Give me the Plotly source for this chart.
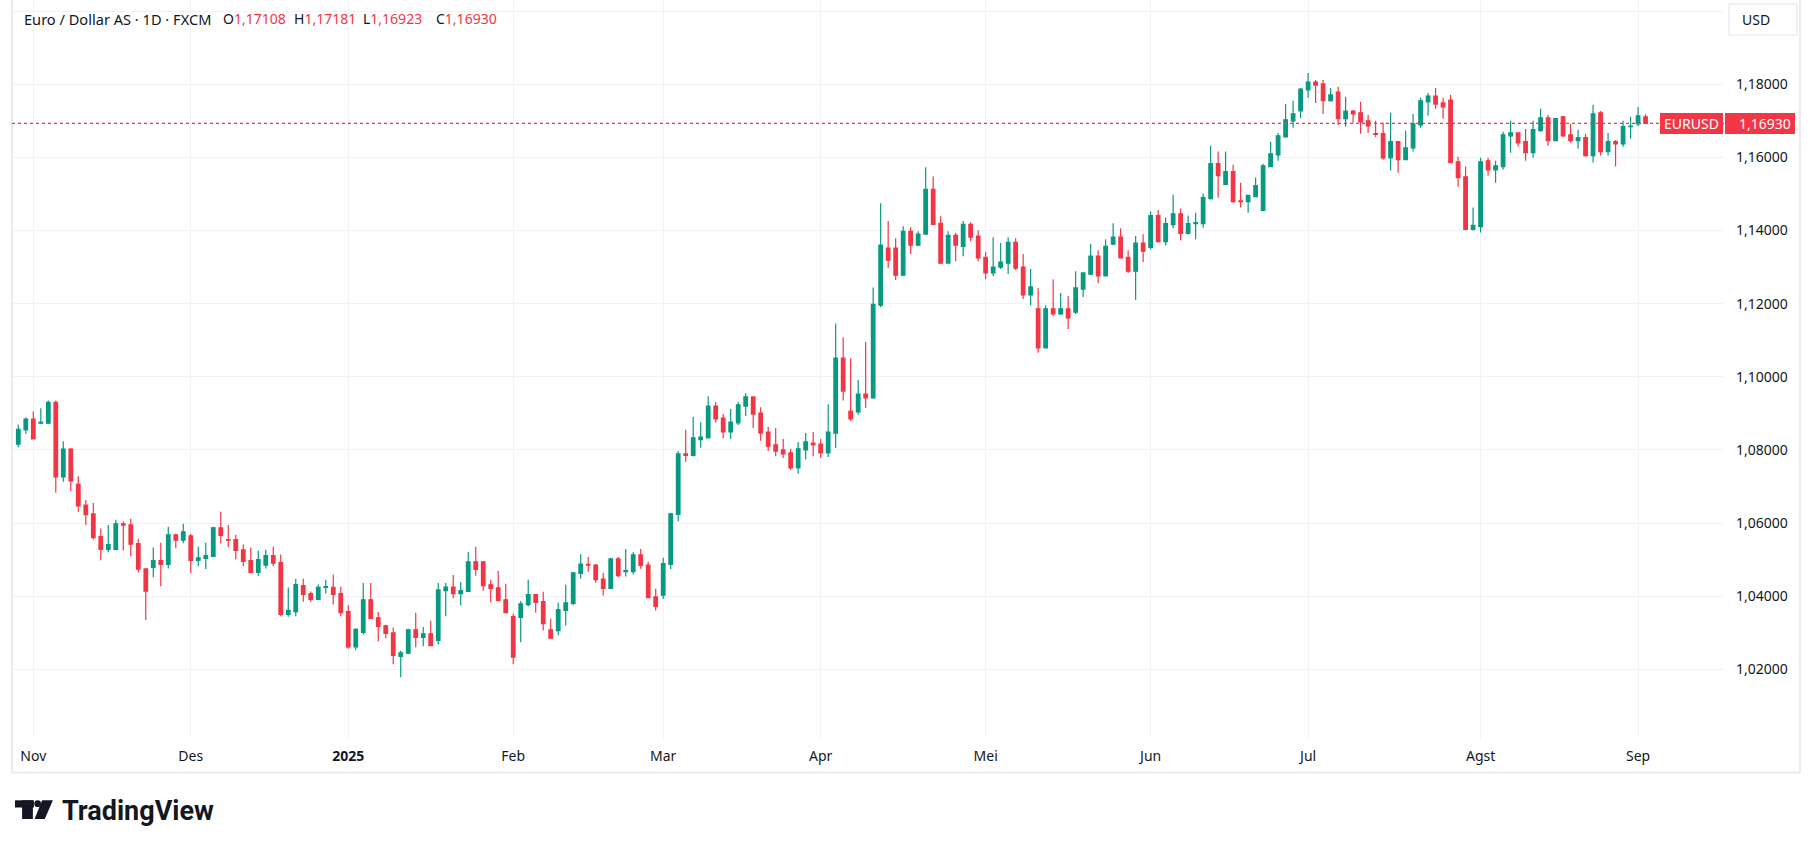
import plotly.graph_objects as go
import pandas as pd

# EUR/USD daily, FXCM (30 Okt 2024 - 2 Sep 2025)
dates = pd.bdate_range("2024-10-30", "2025-09-02")
dates = dates.drop(pd.to_datetime(["2024-12-25", "2025-01-01"]))
days = dates.strftime("%Y-%m-%d").tolist()

opens = [
    1.0816, 1.0855, 1.0884, 1.0873, 1.0873, 1.0930, 1.0726, 1.0802, 1.0706, 1.0649,
    1.0625, 1.0563, 1.0528, 1.0528, 1.0598, 1.0595, 1.0544, 1.0475, 1.0479, 1.0497,
    1.0487, 1.0568, 1.0553, 1.0565, 1.0498, 1.0503, 1.0509, 1.0587, 1.0555, 1.0555,
    1.0527, 1.0497, 1.0465, 1.0485, 1.0511, 1.0492, 1.0350, 1.0358, 1.0429, 1.0407,
    1.0391, 1.0424, 1.0424, 1.0407, 1.0358, 1.0261, 1.0301, 1.0390, 1.0341, 1.0319,
    1.0300, 1.0235, 1.0244, 1.0308, 1.0287, 1.0297, 1.0279, 1.0415, 1.0425, 1.0407,
    1.0413, 1.0494, 1.0494, 1.0431, 1.0423, 1.0390, 1.0344, 1.0342, 1.0377, 1.0404,
    1.0385, 1.0308, 1.0306, 1.0361, 1.0380, 1.0462, 1.0487, 1.0485, 1.0447, 1.0421,
    1.0502, 1.0467, 1.0467, 1.0513, 1.0485, 1.0398, 1.0403, 1.0487, 1.0624, 1.0789,
    1.0785, 1.0828, 1.0833, 1.0920, 1.0887, 1.0849, 1.0874, 1.0920, 1.0945, 1.0901,
    1.0849, 1.0814, 1.0800, 1.0792, 1.0751, 1.0800, 1.0819, 1.0816, 1.0792, 1.0846,
    1.1051, 1.0906, 1.0904, 1.0953, 1.0942, 1.1196, 1.1352, 1.1352, 1.1278, 1.1398,
    1.1360, 1.1390, 1.1513, 1.1420, 1.1311, 1.1387, 1.1357, 1.1417, 1.1385, 1.1327,
    1.1284, 1.1300, 1.1311, 1.1368, 1.1300, 1.1224, 1.1186, 1.1079, 1.1186, 1.1172,
    1.1186, 1.1177, 1.1240, 1.1281, 1.1330, 1.1276, 1.1363, 1.1382, 1.1327, 1.1289,
    1.1366, 1.1354, 1.1441, 1.1370, 1.1416, 1.1446, 1.1392, 1.1419, 1.1419, 1.1487,
    1.1583, 1.1526, 1.1561, 1.1481, 1.1479, 1.1493, 1.1455, 1.1575, 1.1607, 1.1656,
    1.1700, 1.1727, 1.1785, 1.1806, 1.1801, 1.1755, 1.1779, 1.1706, 1.1727, 1.1722,
    1.1700, 1.1665, 1.1665, 1.1599, 1.1643, 1.1594, 1.1626, 1.1689, 1.1752, 1.1768,
    1.1749, 1.1757, 1.1588, 1.1547, 1.1403, 1.1411, 1.1591, 1.1566, 1.1575, 1.1659,
    1.1667, 1.1643, 1.1613, 1.1673, 1.1708, 1.1646, 1.1711, 1.1662, 1.1646, 1.1654,
    1.1605, 1.1722, 1.1616, 1.1643, 1.1637, 1.1684, 1.1692, 1.17108,
]
highs = [
    1.0869, 1.0889, 1.0905, 1.0914, 1.0935, 1.0935, 1.0824, 1.0805, 1.0728, 1.0663,
    1.0655, 1.0585, 1.0595, 1.0609, 1.0604, 1.0612, 1.0557, 1.0476, 1.0533, 1.0546,
    1.0590, 1.0571, 1.0598, 1.0571, 1.0535, 1.0546, 1.0590, 1.0631, 1.0595, 1.0568,
    1.0541, 1.0533, 1.0525, 1.0527, 1.0535, 1.0514, 1.0424, 1.0448, 1.0448, 1.0413,
    1.0432, 1.0445, 1.0459, 1.0426, 1.0375, 1.0312, 1.0436, 1.0436, 1.0357, 1.0322,
    1.0314, 1.0251, 1.0311, 1.0355, 1.0316, 1.0333, 1.0436, 1.0436, 1.0458, 1.0439,
    1.0521, 1.0535, 1.0495, 1.0445, 1.0469, 1.0434, 1.0352, 1.0387, 1.0445, 1.0406,
    1.0412, 1.0338, 1.0382, 1.0431, 1.0466, 1.0515, 1.0507, 1.0488, 1.0464, 1.0505,
    1.0507, 1.0529, 1.0521, 1.0529, 1.0494, 1.0420, 1.0505, 1.0628, 1.0797, 1.0855,
    1.0890, 1.0876, 1.0947, 1.0931, 1.0898, 1.0912, 1.0931, 1.0955, 1.0947, 1.0917,
    1.0863, 1.0860, 1.0830, 1.0803, 1.0822, 1.0846, 1.0849, 1.0830, 1.0925, 1.1146,
    1.1108, 1.1051, 1.0991, 1.1095, 1.1244, 1.1475, 1.1426, 1.1379, 1.1412, 1.1409,
    1.1398, 1.1573, 1.1548, 1.1439, 1.1398, 1.1393, 1.1426, 1.1423, 1.1401, 1.1341,
    1.1382, 1.1366, 1.1382, 1.1379, 1.1336, 1.1295, 1.1243, 1.1196, 1.1267, 1.1229,
    1.1221, 1.1289, 1.1286, 1.1363, 1.1346, 1.1376, 1.1420, 1.1406, 1.1346, 1.1385,
    1.1390, 1.1452, 1.1456, 1.1436, 1.1498, 1.1460, 1.1441, 1.1449, 1.1501, 1.1632,
    1.1616, 1.1616, 1.1580, 1.1531, 1.1498, 1.1545, 1.1583, 1.1643, 1.1667, 1.1746,
    1.1755, 1.1790, 1.1831, 1.1812, 1.1812, 1.1790, 1.1793, 1.1766, 1.1730, 1.1752,
    1.1716, 1.1700, 1.1695, 1.1722, 1.1644, 1.1673, 1.1719, 1.1763, 1.1776, 1.1790,
    1.1763, 1.1771, 1.1602, 1.1575, 1.1463, 1.1599, 1.1599, 1.1591, 1.1670, 1.1700,
    1.1668, 1.1678, 1.1700, 1.1733, 1.1716, 1.1708, 1.1714, 1.1692, 1.1676, 1.1665,
    1.1744, 1.1727, 1.1667, 1.1648, 1.1700, 1.1711, 1.1738, 1.17181,
]
lows = [
    1.0807, 1.0844, 1.0829, 1.0871, 1.0870, 1.0683, 1.0713, 1.0688, 1.0631, 1.0595,
    1.0555, 1.0498, 1.0520, 1.0527, 1.0525, 1.0509, 1.0465, 1.0335, 1.0452, 1.0427,
    1.0476, 1.0531, 1.0545, 1.0463, 1.0482, 1.0474, 1.0507, 1.0545, 1.0534, 1.0501,
    1.0482, 1.0463, 1.0455, 1.0476, 1.0482, 1.0345, 1.0344, 1.0345, 1.0385, 1.0385,
    1.0390, 1.0407, 1.0377, 1.0345, 1.0256, 1.0253, 1.0295, 1.0338, 1.0276, 1.0285,
    1.0214, 1.0178, 1.0241, 1.0260, 1.0263, 1.0264, 1.0268, 1.0345, 1.0394, 1.0375,
    1.0412, 1.0456, 1.0415, 1.0383, 1.0387, 1.0353, 1.0214, 1.0274, 1.0372, 1.0355,
    1.0306, 1.0284, 1.0293, 1.0320, 1.0375, 1.0448, 1.0467, 1.0437, 1.0402, 1.0420,
    1.0451, 1.0454, 1.0459, 1.0475, 1.0395, 1.0361, 1.0392, 1.0474, 1.0605, 1.0768,
    1.0782, 1.0806, 1.0831, 1.0876, 1.0831, 1.0830, 1.0868, 1.0893, 1.0860, 1.0825,
    1.0797, 1.0783, 1.0778, 1.0745, 1.0735, 1.0774, 1.0783, 1.0778, 1.0781, 1.0805,
    1.0935, 1.0879, 1.0896, 1.0915, 1.0940, 1.1190, 1.1297, 1.1265, 1.1277, 1.1336,
    1.1357, 1.1389, 1.1416, 1.1308, 1.1310, 1.1316, 1.1330, 1.1371, 1.1316, 1.1267,
    1.1276, 1.1295, 1.1281, 1.1292, 1.1213, 1.1196, 1.1066, 1.1078, 1.1166, 1.1169,
    1.1131, 1.1172, 1.1218, 1.1278, 1.1256, 1.1275, 1.1360, 1.1324, 1.1284, 1.1210,
    1.1314, 1.1348, 1.1367, 1.1359, 1.1406, 1.1373, 1.1389, 1.1376, 1.1408, 1.1485,
    1.1490, 1.1525, 1.1476, 1.1463, 1.1449, 1.1492, 1.1454, 1.1574, 1.1591, 1.1654,
    1.1681, 1.1708, 1.1763, 1.1749, 1.1719, 1.1752, 1.1689, 1.1684, 1.1695, 1.1665,
    1.1667, 1.1656, 1.1594, 1.1564, 1.1558, 1.1593, 1.1616, 1.1681, 1.1714, 1.1733,
    1.1706, 1.1585, 1.1520, 1.1402, 1.1400, 1.1395, 1.1550, 1.1531, 1.1566, 1.1613,
    1.1629, 1.1591, 1.1599, 1.1670, 1.1632, 1.1645, 1.1656, 1.1640, 1.1624, 1.1602,
    1.1586, 1.1605, 1.1605, 1.1575, 1.1629, 1.1651, 1.1686, 1.16923,
]
closes = [
    1.0856, 1.0884, 1.0830, 1.0876, 1.0930, 1.0726, 1.0802, 1.0715, 1.0647, 1.0623,
    1.0560, 1.0528, 1.0541, 1.0598, 1.0594, 1.0542, 1.0474, 1.0414, 1.0497, 1.0487,
    1.0568, 1.0553, 1.0576, 1.0498, 1.0505, 1.0511, 1.0587, 1.0566, 1.0553, 1.0525,
    1.0495, 1.0465, 1.0500, 1.0511, 1.0490, 1.0350, 1.0361, 1.0432, 1.0405, 1.0391,
    1.0424, 1.0426, 1.0405, 1.0355, 1.0261, 1.0309, 1.0390, 1.0339, 1.0317, 1.0298,
    1.0238, 1.0245, 1.0308, 1.0287, 1.0297, 1.0265, 1.0417, 1.0425, 1.0407, 1.0415,
    1.0494, 1.0473, 1.0429, 1.0421, 1.0388, 1.0355, 1.0233, 1.0379, 1.0404, 1.0383,
    1.0325, 1.0285, 1.0363, 1.0382, 1.0464, 1.0488, 1.0485, 1.0445, 1.0421, 1.0502,
    1.0456, 1.0470, 1.0513, 1.0484, 1.0396, 1.0372, 1.0489, 1.0625, 1.0789, 1.0785,
    1.0833, 1.0835, 1.0920, 1.0885, 1.0849, 1.0876, 1.0923, 1.0945, 1.0898, 1.0846,
    1.0810, 1.0797, 1.0789, 1.0751, 1.0803, 1.0822, 1.0814, 1.0792, 1.0849, 1.1051,
    1.0961, 1.0885, 1.0953, 1.0942, 1.1198, 1.1360, 1.1319, 1.1278, 1.1398, 1.1360,
    1.1390, 1.1513, 1.1417, 1.1311, 1.1387, 1.1360, 1.1417, 1.1382, 1.1325, 1.1284,
    1.1300, 1.1314, 1.1368, 1.1297, 1.1224, 1.1246, 1.1079, 1.1186, 1.1172, 1.1186,
    1.1161, 1.1243, 1.1284, 1.1330, 1.1276, 1.1357, 1.1382, 1.1325, 1.1289, 1.1366,
    1.1344, 1.1441, 1.1370, 1.1419, 1.1446, 1.1392, 1.1419, 1.1422, 1.1490, 1.1583,
    1.1550, 1.1561, 1.1479, 1.1479, 1.1496, 1.1523, 1.1577, 1.1610, 1.1659, 1.1703,
    1.1719, 1.1787, 1.1806, 1.1798, 1.1755, 1.1771, 1.1706, 1.1727, 1.1719, 1.1697,
    1.1686, 1.1663, 1.1599, 1.1643, 1.1594, 1.1626, 1.1692, 1.1755, 1.1768, 1.1746,
    1.1738, 1.1586, 1.1545, 1.1403, 1.1414, 1.1588, 1.1566, 1.1577, 1.1662, 1.1667,
    1.1640, 1.1613, 1.1676, 1.1708, 1.1646, 1.1706, 1.1659, 1.1646, 1.1654, 1.1605,
    1.1719, 1.1616, 1.1643, 1.1637, 1.1684, 1.1686, 1.1714, 1.16930,
]

month_starts = ["2024-11-01", "2024-12-02", "2025-01-02", "2025-02-03", "2025-03-03", "2025-04-01",
                "2025-05-01", "2025-06-02", "2025-07-01", "2025-08-01", "2025-09-01"]
month_labels = ["Nov", "Des", "<b>2025</b>", "Feb", "Mar", "Apr", "Mei", "Jun", "Jul", "Agst", "Sep"]
price_levels = [1.02, 1.04, 1.06, 1.08, 1.10, 1.12, 1.14, 1.16, 1.18, 1.20]

assert len(days) == len(opens) == len(highs) == len(lows) == len(closes)

GREEN = "#089981"
RED = "#F23645"
TEXT = "#131722"
GRID = "#f0f2f6"
FONT = "Noto Sans"

W, H = 1813, 848
PL, PR, PT, PB = 12, 1724, 0, 738   # kotak plot dalam piksel


def px(x):
    return (x - PL) / (PR - PL)


def py(y):
    return (PB - y) / (PB - PT)


def fmt(v):
    return f"{v:.5f}".replace(".", ",")


fig = go.Figure()
fig.add_trace(go.Candlestick(
    x=days, open=opens, high=highs, low=lows, close=closes,
    increasing=dict(line=dict(color=GREEN, width=1.2), fillcolor=GREEN),
    decreasing=dict(line=dict(color=RED, width=1.2), fillcolor=RED),
    whiskerwidth=0, name="EURUSD",
))

last = closes[-1]
shapes = [
    # bingkai luar
    dict(type="rect", xref="paper", yref="paper", x0=px(PL), x1=px(1800), y0=py(772.5), y1=py(-5),
         line=dict(color="#e9ebf0", width=2), fillcolor="rgba(0,0,0,0)", layer="above"),
    # garis harga terakhir
    dict(type="line", xref="paper", yref="y", x0=0, x1=1, y0=last, y1=last,
         line=dict(color=RED, width=1.2, dash="dot")),
    # label EURUSD + harga
    dict(type="rect", xref="paper", yref="y", ysizemode="pixel", yanchor=last, y0=-10.5, y1=10.5,
         x0=px(1660), x1=px(1723), fillcolor=RED, line=dict(width=0)),
    dict(type="rect", xref="paper", yref="y", ysizemode="pixel", yanchor=last, y0=-10.5, y1=10.5,
         x0=px(1725), x1=px(1795), fillcolor=RED, line=dict(width=0)),
    # tombol USD
    dict(type="rect", xref="paper", yref="paper", x0=px(1729), x1=px(1797), y0=py(35), y1=py(4),
         line=dict(color="#e0e3eb", width=1), fillcolor="white"),
    # logo TradingView
    dict(type="rect", xref="paper", yref="paper", x0=px(15), x1=px(33.9), y0=py(807.5), y1=py(800.3),
         fillcolor=TEXT, line=dict(width=0)),
    dict(type="rect", xref="paper", yref="paper", x0=px(22.1), x1=px(32.9), y0=py(819), y1=py(800.3),
         fillcolor=TEXT, line=dict(width=0)),
    dict(type="circle", xref="paper", yref="paper", x0=px(34.3), x1=px(41), y0=py(807), y1=py(800.3),
         fillcolor=TEXT, line=dict(width=0)),
    dict(type="path", xref="paper", yref="paper",
         path=f"M {px(42.1)},{py(800.3)} L {px(52.9)},{py(800.3)} L {px(44.8)},{py(819)} "
              f"L {px(34.6)},{py(819)} Z",
         fillcolor=TEXT, line=dict(width=0)),
]

annotations = [
    dict(text="Euro / Dollar AS · 1D · FXCM", x=px(22), y=py(19), font_size=14.6),
    dict(text=f"O<span style='color:{RED}'>{fmt(opens[-1])}</span>", x=px(221), y=py(19)),
    dict(text=f"H<span style='color:{RED}'>{fmt(highs[-1])}</span>", x=px(292), y=py(19)),
    dict(text=f"L<span style='color:{RED}'>{fmt(lows[-1])}</span>", x=px(361), y=py(19)),
    dict(text=f"C<span style='color:{RED}'>{fmt(closes[-1])}</span>", x=px(434), y=py(19)),
    dict(text="USD", x=px(1740), y=py(19.5)),
]
for a in annotations:
    size = a.pop("font_size", 14)
    a.update(xref="paper", yref="paper", xanchor="left", yanchor="middle", showarrow=False,
             font=dict(family=FONT, size=size, color=TEXT))

annotations += [
    dict(text="EURUSD", xref="paper", yref="y", x=px(1691.5), y=last, xanchor="center", yanchor="middle",
         showarrow=False, font=dict(family=FONT, size=14, color="white")),
    dict(text=fmt(last), xref="paper", yref="y", x=px(1737), y=last, xanchor="left", yanchor="middle",
         showarrow=False, font=dict(family=FONT, size=14, color="white")),
    dict(text="TradingView", xref="paper", yref="paper", x=px(60), y=py(811), xanchor="left",
         yanchor="middle", showarrow=False, font=dict(family="Roboto", size=27, color=TEXT, weight=700)),
]

fig.update_layout(
    width=W, height=H,
    margin=dict(l=PL, r=W - PR, t=PT, b=H - PB, pad=0),
    paper_bgcolor="white", plot_bgcolor="white",
    font=dict(family=FONT, size=14, color=TEXT),
    separators=",.",
    showlegend=False,
    boxgap=0.32,
    shapes=shapes,
    annotations=annotations,
    xaxis=dict(
        type="category", range=[-0.84, 227.46],
        tickmode="array", tickvals=month_starts, ticktext=month_labels,
        showgrid=True, gridcolor=GRID, gridwidth=1, zeroline=False, showline=False,
        ticks="", ticklabelstandoff=8, tickfont=dict(size=14, color=TEXT),
        rangeslider=dict(visible=False), fixedrange=True,
    ),
    yaxis=dict(
        side="right", range=[1.00121, 1.20306],
        tickmode="array", tickvals=price_levels,
        ticktext=[fmt(v) if v < 1.19 else "" for v in price_levels],
        showgrid=True, gridcolor=GRID, gridwidth=1, zeroline=False, showline=False,
        ticks="", ticklabelstandoff=11, tickfont=dict(size=14, color=TEXT), fixedrange=True,
    ),
)

fig.write_html("out.html", config={"displayModeBar": False},
               post_script="document.body.style.margin='0';")
